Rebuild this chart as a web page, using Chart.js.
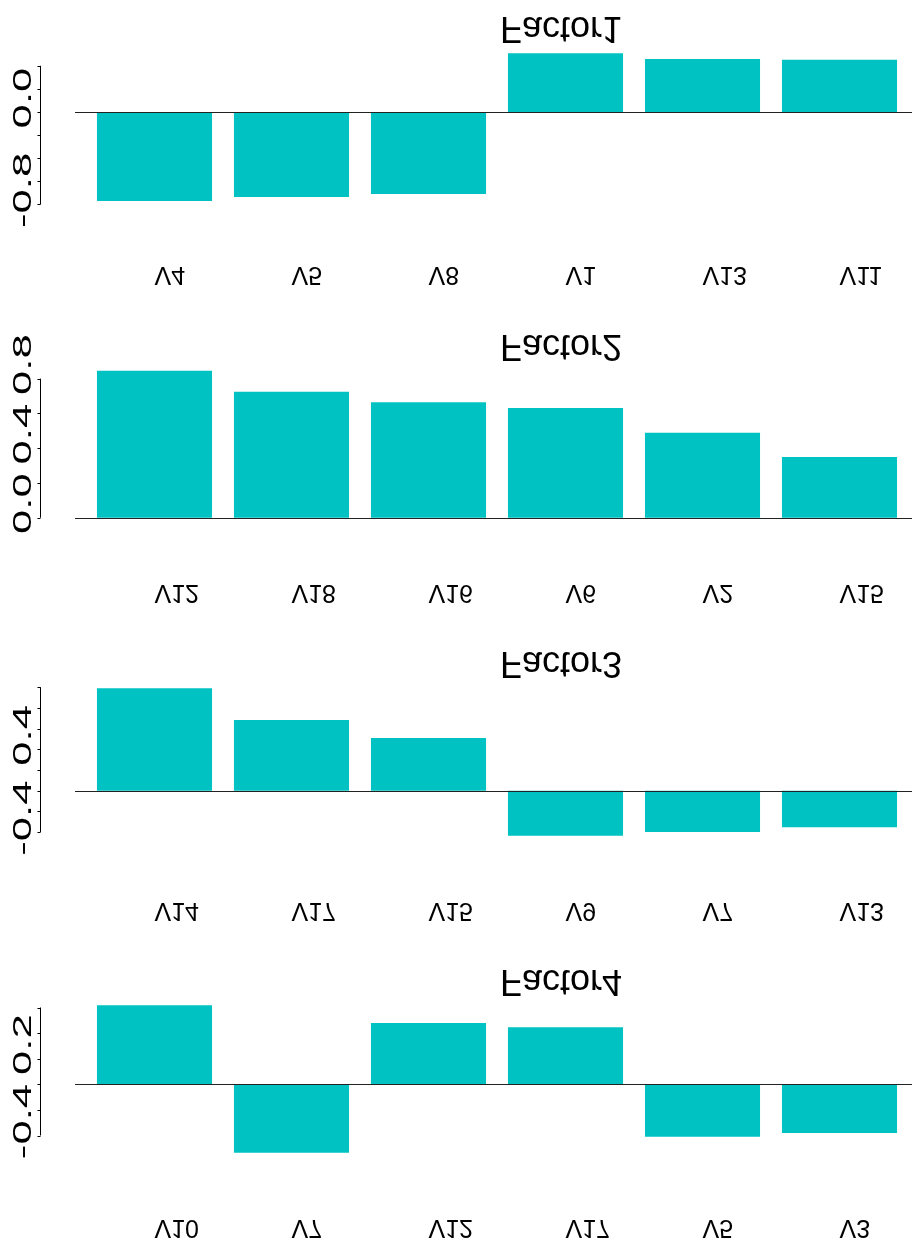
<!DOCTYPE html>
<html>
<head>
<meta charset="utf-8">
<script src="https://cdn.jsdelivr.net/npm/chart.js@4.4.1/dist/chart.umd.min.js"></script>
<style>
  html, body { margin: 0; padding: 0; background: #ffffff; }
  #wrap { position: relative; width: 912px; height: 1241px; overflow: hidden; }
  #wrap canvas { position: absolute; left: 0; }
</style>
</head>
<body>
<div id="wrap"></div>
<script>
// Loadings of the strongest variables on each factor
const factorNames = ["Factor1", "Factor2", "Factor3", "Factor4"];

const vars1 = ["V4", "V5", "V8", "V1", "V13", "V11"];
const load1 = [-0.77, -0.736, -0.71, 0.508, 0.459, 0.453];
const ticks1 = [-0.8, -0.6, -0.4, -0.2, 0.0, 0.2, 0.4];
const tickLabels1 = [-0.8, 0.0];

const vars2 = ["V12", "V18", "V16", "V6", "V2", "V15"];
const load2 = [0.846, 0.725, 0.664, 0.632, 0.489, 0.349];
const ticks2 = [0.0, 0.2, 0.4, 0.6, 0.8];
const tickLabels2 = [0.0, 0.4, 0.8];

const vars3 = ["V14", "V17", "V15", "V9", "V7", "V13"];
const load3 = [0.99, 0.683, 0.509, -0.435, -0.40, -0.354];
const ticks3 = [-0.4, -0.2, 0.0, 0.2, 0.4, 0.6, 0.8, 1.0];
const tickLabels3 = [-0.4, 0.4];

const vars4 = ["V10", "V7", "V12", "V17", "V5", "V3"];
const load4 = [0.617, -0.534, 0.479, 0.445, -0.41, -0.38];
const ticks4 = [-0.4, -0.2, 0.0, 0.2, 0.4, 0.6];
const tickLabels4 = [-0.4, 0.2];

const panels = [
  { name: factorNames[0], vars: vars1, vals: load1, ticks: ticks1, labels: tickLabels1 },
  { name: factorNames[1], vars: vars2, vals: load2, ticks: ticks2, labels: tickLabels2 },
  { name: factorNames[2], vars: vars3, vals: load3, ticks: ticks3, labels: tickLabels3 },
  { name: factorNames[3], vars: vars4, vals: load4, ticks: ticks4, labels: tickLabels4 }
];

// Page geometry of each panel
const frames = [
  { top: 0,   areaTop: 65.8,  areaBottom: 204.4, titleY: 16.7, labelY: 267 },
  { top: 310, areaTop: 68.7,  areaBottom: 207.7, titleY: 25,   labelY: 275 },
  { top: 620, areaTop: 67.2,  areaBottom: 212.1, titleY: 32,   labelY: 283 },
  { top: 930, areaTop: 77.5,  areaBottom: 205.5, titleY: 40,   labelY: 290 }
];

const W = 912, H = 311;
const BAR = "#00C2C2";
const FONT = "'Liberation Sans', Arial, Helvetica, sans-serif";

// Draws the axis, zero line and the mirrored texts of one panel
const panelDecor = {
  id: "panelDecor",
  afterDatasetsDraw(chart, args, opts) {
    const ctx = chart.ctx;
    const ys = chart.scales.y, xs = chart.scales.x;
    const p = opts.panel, f = opts.frame;
    ctx.save();

    // zero line
    const z = Math.round(ys.getPixelForValue(0)) + 0.5;
    ctx.strokeStyle = "#222";
    ctx.lineWidth = 1.2;
    ctx.beginPath();
    ctx.moveTo(75, z);
    ctx.lineTo(W, z);
    ctx.stroke();

    // y axis with ticks
    const ax = 40.5;
    const tTop = ys.getPixelForValue(Math.max(...p.ticks));
    const tBot = ys.getPixelForValue(Math.min(...p.ticks));
    ctx.strokeStyle = "#000";
    ctx.lineWidth = 1;
    ctx.beginPath();
    ctx.moveTo(ax, tTop);
    ctx.lineTo(ax, tBot);
    p.ticks.forEach(v => {
      const y = Math.round(ys.getPixelForValue(v)) + 0.5;
      ctx.moveTo(ax, y);
      ctx.lineTo(ax - 3, y);
    });
    ctx.stroke();

    // y tick labels, rotated and widened
    ctx.fillStyle = "#000";
    ctx.font = "25px " + FONT;
    ctx.textAlign = "center";
    ctx.textBaseline = "alphabetic";
    p.labels.forEach(v => {
      const y = ys.getPixelForValue(v) - 14;
      ctx.save();
      ctx.translate(30.5, y);
      ctx.rotate(-Math.PI / 2);
      ctx.scale(1.75, 1);
      ctx.fillText(v.toFixed(1), 0, 0);
      ctx.restore();
    });

    // upside-down title
    ctx.font = "36px " + FONT;
    ctx.textAlign = "left";
    ctx.save();
    ctx.translate(500, f.titleY);
    ctx.scale(1, -1);
    ctx.fillText(p.name, 0, 0);
    ctx.restore();

    // upside-down category labels
    ctx.font = "25px " + FONT;
    p.vars.forEach((name, i) => {
      const x = xs.getPixelForValue(i);
      ctx.save();
      ctx.translate(x, f.labelY);
      ctx.scale(1, -1);
      ctx.fillText(name, 0, 0);
      ctx.restore();
    });

    ctx.restore();
  }
};

const wrap = document.getElementById("wrap");
panels.forEach((p, i) => {
  const f = frames[i];
  const cv = document.createElement("canvas");
  cv.width = W; cv.height = H;
  cv.style.top = f.top + "px";
  cv.style.width = W + "px"; cv.style.height = H + "px";
  wrap.appendChild(cv);

  new Chart(cv, {
    type: "bar",
    data: {
      labels: p.vars,
      datasets: [{
        data: p.vals,
        backgroundColor: BAR,
        borderWidth: 0,
        barPercentage: 0.84,
        categoryPercentage: 1.0,
        clip: false
      }]
    },
    options: {
      responsive: false,
      animation: false,
      events: [],
      layout: { padding: { left: 86, right: 4, top: f.areaTop, bottom: H - f.areaBottom } },
      plugins: {
        legend: { display: false },
        tooltip: { enabled: false },
        title: { display: false },
        panelDecor: { panel: p, frame: f }
      },
      scales: {
        x: { display: false, offset: true },
        y: { display: false, min: Math.min(...p.ticks), max: Math.max(...p.ticks) }
      }
    },
    plugins: [panelDecor]
  });
});
</script>
</body>
</html>
